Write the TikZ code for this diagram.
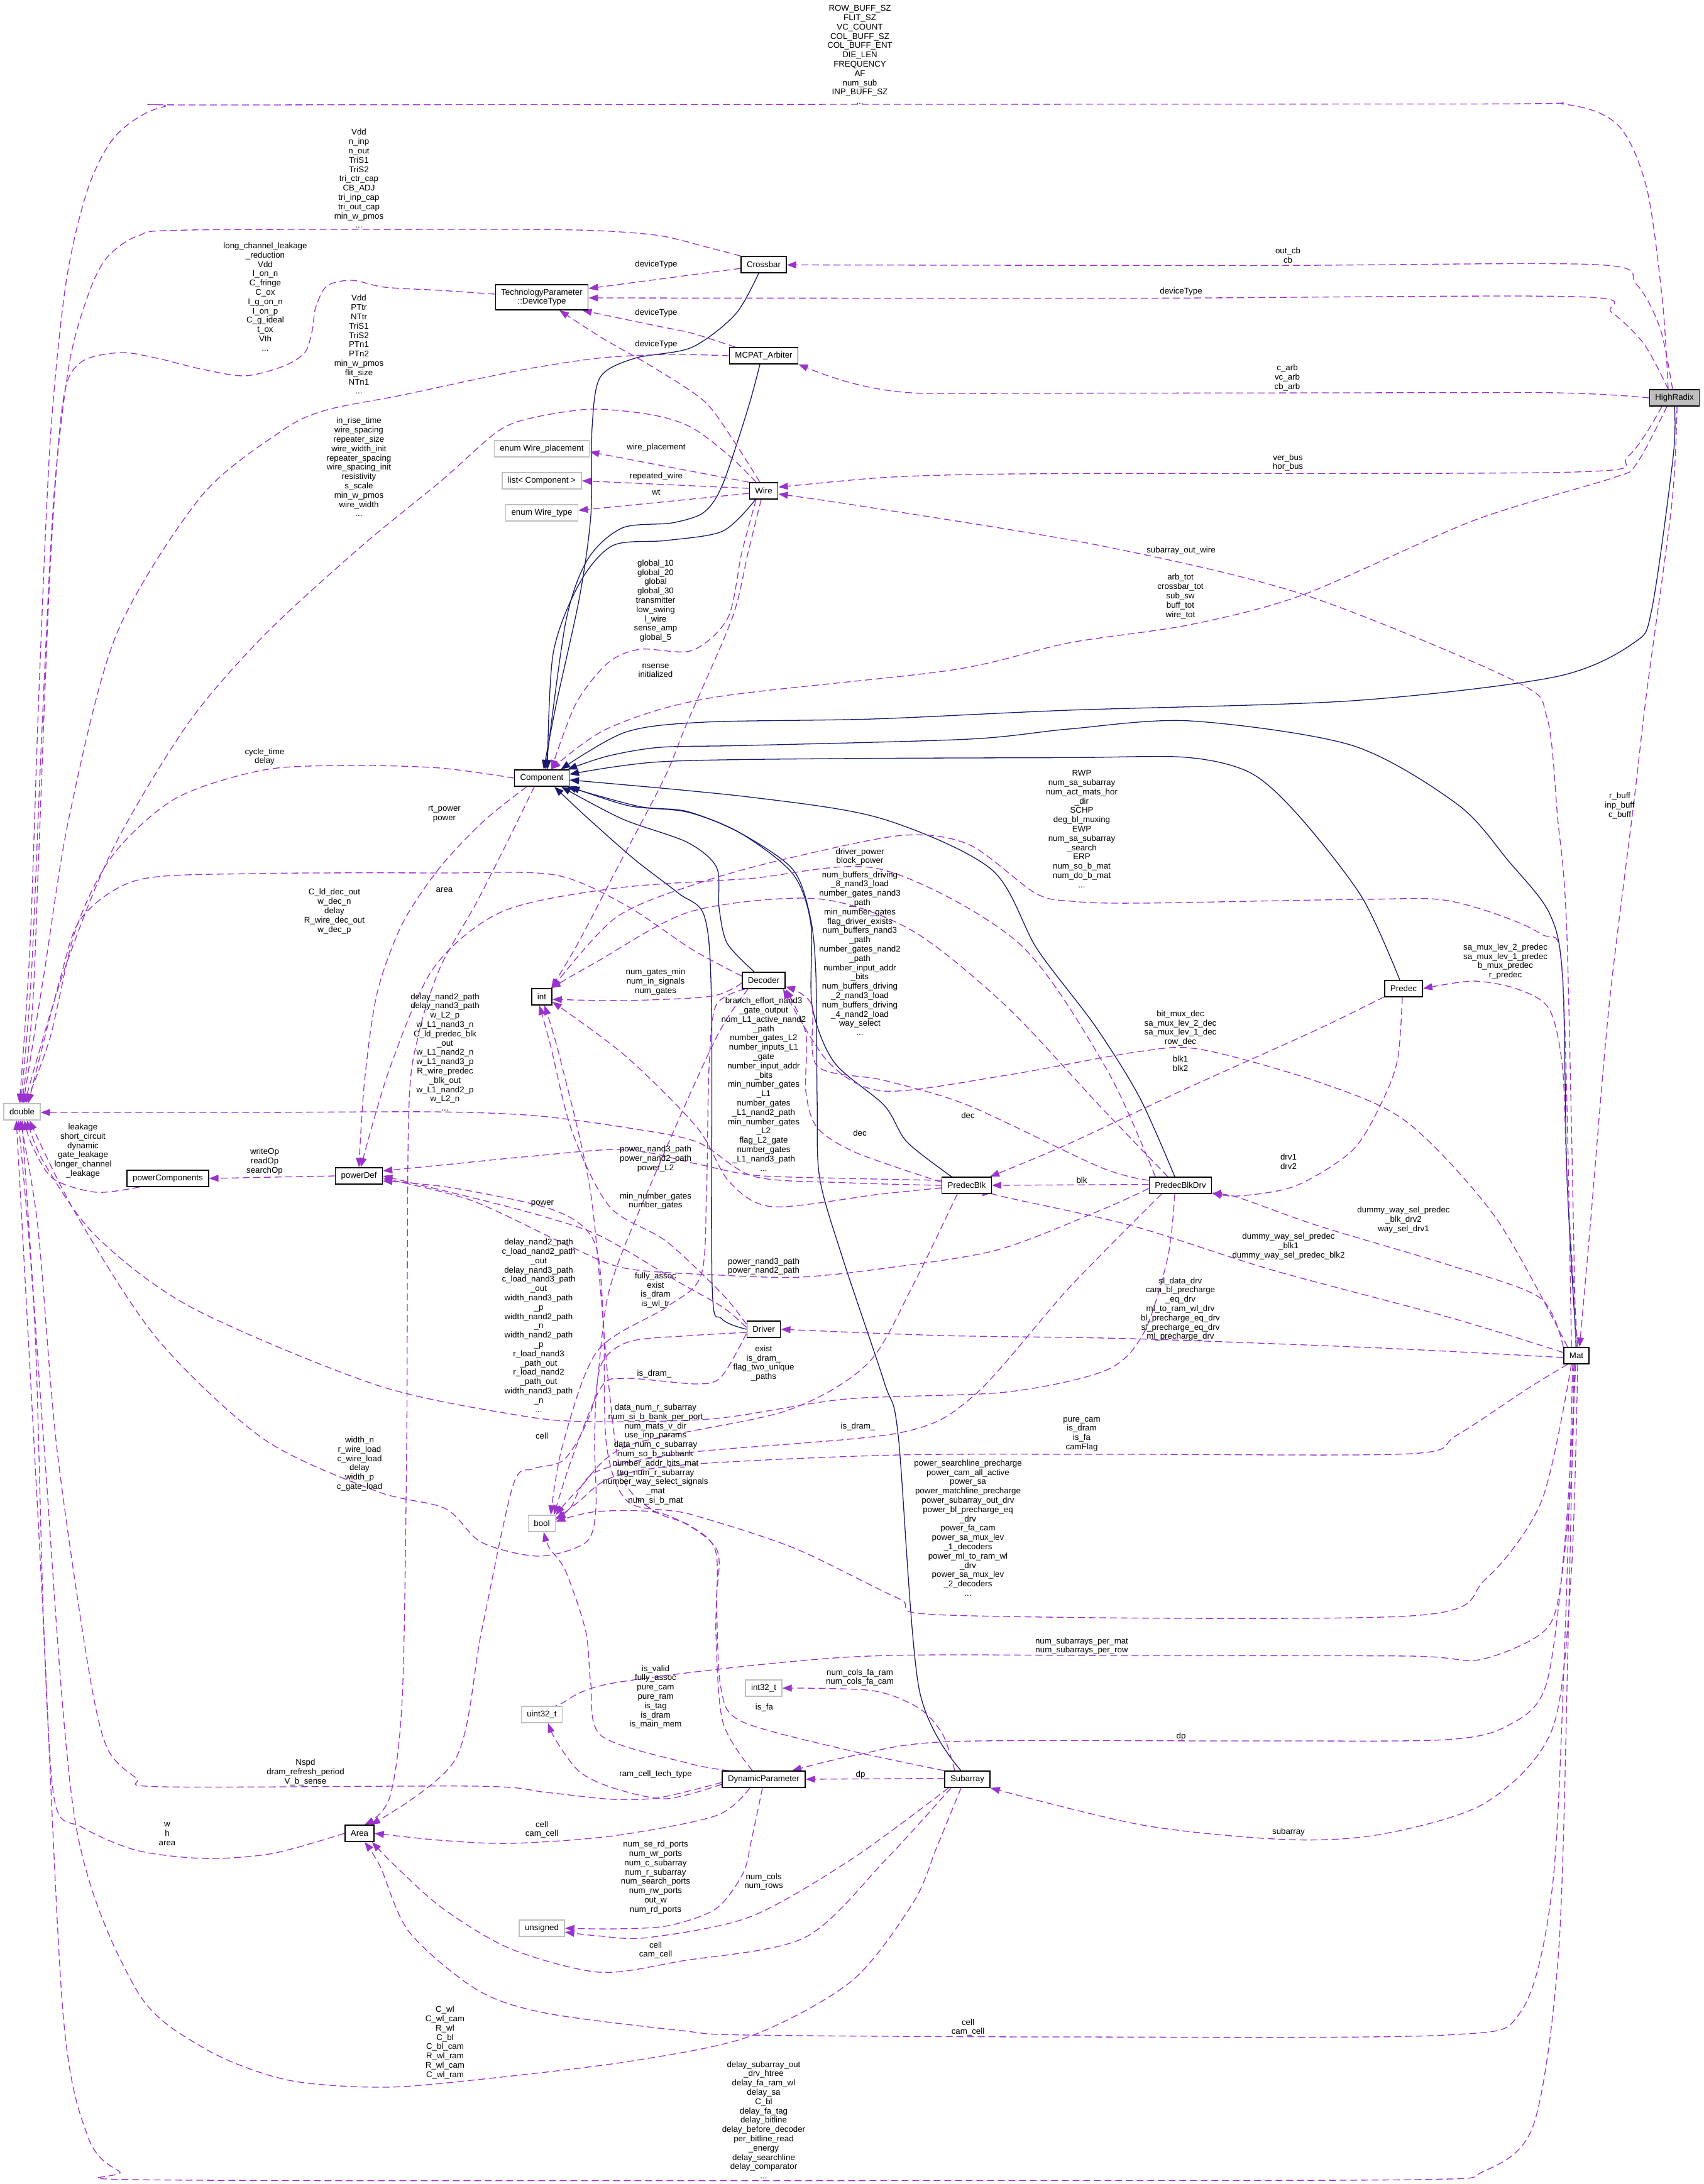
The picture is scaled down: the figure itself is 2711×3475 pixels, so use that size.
\documentclass[tikz,border=0pt]{standalone}
\usepackage{fontspec}
\setmainfont{Liberation Sans}
\usetikzlibrary{arrows.meta}
\definecolor{usecol}{HTML}{9A32CD}
\definecolor{inhcol}{HTML}{191970}
\definecolor{extcol}{HTML}{BFBFBF}
\newcommand\labfont{\fontsize{13.3}{14.8}\selectfont}
\pgfdeclarelayer{edges}
\pgfsetlayers{edges,main}
\begin{document}
\begin{tikzpicture}[x=1pt,y=-1pt,font=\labfont,
  cls/.style={draw=black,line width=1.5pt,fill=white,minimum height=26pt,inner xsep=9pt,inner ysep=2pt},
  ext/.style={cls,draw=extcol},
  hl/.style={cls,fill=extcol},
  lbl/.style={align=center,inner sep=0pt},
  ue/.style={draw=usecol,line width=1.3pt,dash pattern=on 11pt off 6pt,-{Triangle[length=15pt,width=11pt]}},
  ih/.style={draw=inhcol,line width=1.3pt,-{Triangle[length=15pt,width=11pt]}}]
\useasboundingbox (0,0) rectangle (2711,3475);
% ---------------- nodes
\node[hl]  (HR)  at (2664,633) {HighRadix};
\node[cls] (CB)  at (1215,421) {Crossbar};
\node[cls,align=center,minimum height=40pt] (TP) at (862,473) {TechnologyParameter\\::DeviceType};
\node[cls] (MA)  at (1215,566) {MCPAT\_Arbiter};
\node[ext] (EWP) at (862,714) {enum Wire\_placement};
\node[ext] (LC)  at (862,765) {list< Component >};
\node[ext] (EWT) at (862,816) {enum Wire\_type};
\node[cls] (W)   at (1215,781) {Wire};
\node[cls] (C)   at (862,1238) {Component};
\node[cls] (D)   at (1215,1560) {Decoder};
\node[cls] (I)   at (862,1586) {int};
\node[cls] (PB)  at (1538,1886) {PredecBlk};
\node[cls] (PBD) at (1878,1886) {PredecBlkDrv};
\node[cls] (P)   at (2233,1573) {Predec};
\node[ext] (DBL) at (35,1769) {double};
\node[cls] (PC)  at (267,1875) {powerComponents};
\node[cls] (PD)  at (571,1871) {powerDef};
\node[cls] (DRV) at (1215,2115) {Driver};
\node[cls] (M)   at (2508,2157) {Mat};
\node[ext] (B)   at (862,2424) {bool};
\node[ext] (I32) at (1215,2686) {int32\_t};
\node[ext] (U32) at (862,2728) {uint32\_t};
\node[cls] (DP)  at (1215,2831) {DynamicParameter};
\node[cls] (S)   at (1539,2831) {Subarray};
\node[cls] (A)   at (572,2917) {Area};
\node[ext] (U)   at (862,3068) {unsigned};
% ---------------- labels
\node[lbl] (l1) at (1368,87) {ROW\_BUFF\_SZ\\FLIT\_SZ\\VC\_COUNT\\COL\_BUFF\_SZ\\COL\_BUFF\_ENT\\DIE\_LEN\\FREQUENCY\\AF\\num\_sub\\INP\_BUFF\_SZ\\...};
\node[lbl] (l2) at (2049,406) {out\_cb\\cb};
\node[lbl] (l3) at (1879,464) {deviceType};
\node[lbl] (l4) at (2048,601) {c\_arb\\vc\_arb\\cb\_arb};
\node[lbl] (l5) at (2049,736) {ver\_bus\\hor\_bus};
\node[lbl] (l6) at (1879,876) {subarray\_out\_wire};
\node[lbl] (l7) at (1878,949) {arb\_tot\\crossbar\_tot\\sub\_sw\\buff\_tot\\wire\_tot};
\node[lbl] (l8) at (2577,1282) {r\_buff\\inp\_buff\\c\_buff};
\node[lbl] (l9) at (571,284) {Vdd\\n\_inp\\n\_out\\TriS1\\TriS2\\tri\_ctr\_cap\\CB\_ADJ\\tri\_inp\_cap\\tri\_out\_cap\\min\_w\_pmos\\...};
\node[lbl] (l10) at (422,472) {long\_channel\_leakage\\\_reduction\\Vdd\\I\_on\_n\\C\_fringe\\C\_ox\\I\_g\_on\_n\\I\_on\_p\\C\_g\_ideal\\t\_ox\\Vth\\...};
\node[lbl] (l11) at (571,548) {Vdd\\PTtr\\NTtr\\TriS1\\TriS2\\PTn1\\PTn2\\min\_w\_pmos\\flit\_size\\NTn1\\...};
\node[lbl] (l12) at (571,743) {in\_rise\_time\\wire\_spacing\\repeater\_size\\wire\_width\_init\\repeater\_spacing\\wire\_spacing\_init\\resistivity\\s\_scale\\min\_w\_pmos\\wire\_width\\...};
\node[lbl] (l13) at (1044,421) {deviceType};
\node[lbl] (l14) at (1044,498) {deviceType};
\node[lbl] (l15) at (1044,548) {deviceType};
\node[lbl] (l16) at (1044,712) {wire\_placement};
\node[lbl] (l17) at (1044,758) {repeated\_wire};
\node[lbl] (l18) at (1044,783) {wt};
\node[lbl] (l19) at (1043,956) {global\_10\\global\_20\\global\\global\_30\\transmitter\\low\_swing\\l\_wire\\sense\_amp\\global\_5};
\node[lbl] (l20) at (1043,1067) {nsense\\initialized};
\node[lbl] (l21) at (421,1204) {cycle\_time\\delay};
\node[lbl] (l22) at (1721,1319) {RWP\\num\_sa\_subarray\\num\_act\_mats\_hor\\\_dir\\SCHP\\deg\_bl\_muxing\\EWP\\num\_sa\_subarray\\\_search\\ERP\\num\_so\_b\_mat\\num\_do\_b\_mat\\...};
\node[lbl] (l23) at (707,1295) {rt\_power\\power};
\node[lbl] (l24) at (707,1416) {area};
\node[lbl] (l25) at (532,1450) {C\_ld\_dec\_out\\w\_dec\_n\\delay\\R\_wire\_dec\_out\\w\_dec\_p};
\node[lbl] (l26) at (1368,1363) {driver\_power\\block\_power};
\node[lbl] (l27) at (1368,1517) {num\_buffers\_driving\\\_8\_nand3\_load\\number\_gates\_nand3\\\_path\\min\_number\_gates\\flag\_driver\_exists\\num\_buffers\_nand3\\\_path\\number\_gates\_nand2\\\_path\\number\_input\_addr\\\_bits\\num\_buffers\_driving\\\_2\_nand3\_load\\num\_buffers\_driving\\\_4\_nand2\_load\\way\_select\\...};
\node[lbl] (l28) at (1043,1562) {num\_gates\_min\\num\_in\_signals\\num\_gates};
\node[lbl] (l29) at (1215,1725) {branch\_effort\_nand3\\\_gate\_output\\num\_L1\_active\_nand2\\\_path\\number\_gates\_L2\\number\_inputs\_L1\\\_gate\\number\_input\_addr\\\_bits\\min\_number\_gates\\\_L1\\number\_gates\\\_L1\_nand2\_path\\min\_number\_gates\\\_L2\\flag\_L2\_gate\\number\_gates\\\_L1\_nand3\_path\\...};
\node[lbl] (l30) at (708,1674) {delay\_nand2\_path\\delay\_nand3\_path\\w\_L2\_p\\w\_L1\_nand3\_n\\C\_ld\_predec\_blk\\\_out\\w\_L1\_nand2\_n\\w\_L1\_nand3\_p\\R\_wire\_predec\\\_blk\_out\\w\_L1\_nand2\_p\\w\_L2\_n\\...};
\node[lbl] (l31) at (132,1831) {leakage\\short\_circuit\\dynamic\\gate\_leakage\\longer\_channel\\\_leakage};
\node[lbl] (l32) at (421,1848) {writeOp\\readOp\\searchOp};
\node[lbl] (l33) at (1043,1844) {power\_nand3\_path\\power\_nand2\_path\\power\_L2};
\node[lbl] (l34) at (863,1915) {power};
\node[lbl] (l35) at (1043,1911) {min\_number\_gates\\number\_gates};
\node[lbl] (l36) at (857,2109) {delay\_nand2\_path\\c\_load\_nand2\_path\\\_out\\delay\_nand3\_path\\c\_load\_nand3\_path\\\_out\\width\_nand3\_path\\\_p\\width\_nand2\_path\\\_n\\width\_nand2\_path\\\_p\\r\_load\_nand3\\\_path\_out\\r\_load\_nand2\\\_path\_out\\width\_nand3\_path\\\_n\\...};
\node[lbl] (l37) at (1043,2053) {fully\_assoc\\exist\\is\_dram\\is\_wl\_tr};
\node[lbl] (l38) at (1215,2015) {power\_nand3\_path\\power\_nand2\_path};
\node[lbl] (l39) at (1368,1803) {dec};
\node[lbl] (l40) at (1540,1775) {dec};
\node[lbl] (l41) at (1721,1878) {blk};
\node[lbl] (l42) at (1878,1636) {bit\_mux\_dec\\sa\_mux\_lev\_2\_dec\\sa\_mux\_lev\_1\_dec\\row\_dec};
\node[lbl] (l43) at (1878,1692) {blk1\\blk2};
\node[lbl] (l44) at (2395,1530) {sa\_mux\_lev\_2\_predec\\sa\_mux\_lev\_1\_predec\\b\_mux\_predec\\r\_predec};
\node[lbl] (l45) at (2050,1848) {drv1\\drv2};
\node[lbl] (l46) at (2233,1941) {dummy\_way\_sel\_predec\\\_blk\_drv2\\way\_sel\_drv1};
\node[lbl] (l47) at (2050,1983) {dummy\_way\_sel\_predec\\\_blk1\\dummy\_way\_sel\_predec\_blk2};
\node[lbl] (l48) at (1878,2083) {sl\_data\_drv\\cam\_bl\_precharge\\\_eq\_drv\\ml\_to\_ram\_wl\_drv\\bl\_precharge\_eq\_drv\\sl\_precharge\_eq\_drv\\ml\_precharge\_drv};
\node[lbl] (l49) at (1215,2169) {exist\\is\_dram\_\\flag\_two\_unique\\\_paths};
\node[lbl] (l50) at (1041,2186) {is\_dram\_};
\node[lbl] (l51) at (572,2329) {width\_n\\r\_wire\_load\\c\_wire\_load\\delay\\width\_p\\c\_gate\_load};
\node[lbl] (l52) at (862,2285) {cell};
\node[lbl] (l53) at (1365,2270) {is\_dram\_};
\node[lbl] (l54) at (1043,2320) {data\_num\_r\_subarray\\num\_si\_b\_bank\_per\_port\\num\_mats\_v\_dir\\use\_inp\_params\\data\_num\_c\_subarray\\num\_so\_b\_subbank\\number\_addr\_bits\_mat\\tag\_num\_r\_subarray\\number\_way\_select\_signals\\\_mat\\num\_si\_b\_mat\\...};
\node[lbl] (l55) at (1721,2282) {pure\_cam\\is\_dram\\is\_fa\\camFlag};
\node[lbl] (l56) at (1540,2431) {power\_searchline\_precharge\\power\_cam\_all\_active\\power\_sa\\power\_matchline\_precharge\\power\_subarray\_out\_drv\\power\_bl\_precharge\_eq\\\_drv\\power\_fa\_cam\\power\_sa\_mux\_lev\\\_1\_decoders\\power\_ml\_to\_ram\_wl\\\_drv\\power\_sa\_mux\_lev\\\_2\_decoders\\...};
\node[lbl] (l57) at (1721,2619) {num\_subarrays\_per\_mat\\num\_subarrays\_per\_row};
\node[lbl] (l58) at (1043,2700) {is\_valid\\fully\_assoc\\pure\_cam\\pure\_ram\\is\_tag\\is\_dram\\is\_main\_mem};
\node[lbl] (l59) at (1368,2669) {num\_cols\_fa\_ram\\num\_cols\_fa\_cam};
\node[lbl] (l60) at (1216,2717) {is\_fa};
\node[lbl] (l61) at (1879,2763) {dp};
\node[lbl] (l62) at (1043,2823) {ram\_cell\_tech\_type};
\node[lbl] (l63) at (1369,2824) {dp};
\node[lbl] (l64) at (486,2820) {Nspd\\dram\_refresh\_period\\V\_b\_sense};
\node[lbl] (l65) at (266,2918) {w\\h\\area};
\node[lbl] (l66) at (862,2911) {cell\\cam\_cell};
\node[lbl] (l67) at (2050,2915) {subarray};
\node[lbl] (l68) at (1043,2987) {num\_se\_rd\_ports\\num\_wr\_ports\\num\_c\_subarray\\num\_r\_subarray\\num\_search\_ports\\num\_rw\_ports\\out\_w\\num\_rd\_ports};
\node[lbl] (l69) at (1215,2994) {num\_cols\\num\_rows};
\node[lbl] (l70) at (1043,3103) {cell\\cam\_cell};
\node[lbl] (l71) at (708,3250) {C\_wl\\C\_wl\_cam\\R\_wl\\C\_bl\\C\_bl\_cam\\R\_wl\_ram\\R\_wl\_cam\\C\_wl\_ram};
\node[lbl] (l72) at (1540,3226) {cell\\cam\_cell};
\node[lbl] (l73) at (1215,3373) {delay\_subarray\_out\\\_drv\_htree\\delay\_fa\_ram\_wl\\delay\_sa\\C\_bl\\delay\_fa\_tag\\delay\_bitline\\delay\_before\_decoder\\per\_bitline\_read\\\_energy\\delay\_searchline\\delay\_comparator\\...};
% ---------------- edges
\begin{pgfonlayer}{edges}
\fill[white] (0,0) rectangle (2711,3475);
% inheritance
\draw[ih] plot[smooth] coordinates {([xshift=-8pt]CB.south) (1170,500) (1100,553) (1010,570) (955,600) (942,680) (940,820) (922,950) (885,1120) ([xshift=3pt]C.north)};
\draw[ih] plot[smooth] coordinates {([xshift=-6pt]MA.south) (1190,650) (1150,770) (1120,815) (1069,832) (990,840) (935,890) (900,990) ([xshift=6pt]C.north)};
\draw[ih] plot[smooth] coordinates {([xshift=-13pt]W.south) (1150,845) (1060,860) (975,868) (922,928) (880,1040) ([xshift=9pt]C.north)};
\draw[ih] plot[smooth] coordinates {(HR.south) (2662,726) (2628,969) (2599,1023) (2474,1077) (2151,1115) (1700,1130) (1388,1144) (1121,1149) (995,1165) ([xshift=-14pt]C.north east)};
\draw[ih] plot[smooth] coordinates {(M.north) (2493,1874) (2486,1555) (2465,1453) (2400,1370) (2319,1280) (2151,1186) (1893,1147) (1700,1160) (1542,1176) (1191,1186) (1051,1189) (967,1203) ([xshift=-3pt]C.north east)};
\draw[ih] plot[smooth] coordinates {([xshift=-6pt]P.north) (2167,1428) (2068,1300) (1990,1230) (1887,1205) (1700,1205.5) (1331,1207) (1051,1212) ([yshift=6pt]C.east)};
\draw[ih] plot[smooth] coordinates {([xshift=-9pt]PBD.north) (1813,1746) (1742,1632) (1650,1510) (1577,1383) (1401,1302) (1191,1268) ([yshift=-3pt]C.east)};
\draw[ih] plot[smooth] coordinates {([xshift=-24pt]PB.north) (1443,1817) (1407,1759) (1327,1690) (1292,1600) (1290,1470) (1261,1390) (1177,1325) (1093,1292) (1000,1282) ([xshift=45pt]C.south)};
\draw[ih] plot[smooth] coordinates {([xshift=-15pt]D.north) (1157,1501) (1144,1444) (1140,1380) (1093,1340) (990,1303) ([xshift=31pt]C.south)};
\draw[ih] plot[smooth] coordinates {(DRV.west) (1148,2098) (1133,2046) (1132,1600) (1121,1459) (1079,1421) (1009,1367) (931,1298) ([xshift=20pt]C.south)};
\draw[ih] plot[smooth] coordinates {([xshift=-10pt]S.north) (1462,2686) (1429,2284) (1407,2200) (1340,2000) (1304,1874) (1300,1748) (1298,1550) (1289,1459) (1261,1383) (1177,1325) (1093,1291) (1016,1283) ([xshift=40pt]C.south)};
% usage: to double
\draw[ue] plot[smooth] coordinates {([xshift=-10pt]HR.north) (2645,480) (2620,300) (2575,200) (2490,166) (2300,165.5) (400,167) (260,170) (185,215) (140,300) (105,450) (80,700) (62,1100) (48,1500) ([xshift=-4pt]DBL.north)};
\draw[ue] plot[smooth] coordinates {(CB.north west) (1120,392) (1050,375) (950,367) (800,365) (300,366) (220,375) (170,410) (140,470) (110,580) (85,800) (65,1200) (50,1550) ([xshift=-2pt]DBL.north)};
\draw[ue] plot[smooth] coordinates {([yshift=5pt]TP.west) (700,462) (612,457) (560,446) (520,455) (502,490) (497,525) (485,561) (450,583) (389,598) (319,587) (250,570) (191,561) (128,577) (100,640) (80,900) (62,1350) (52,1600) (DBL.north)};
\draw[ue] plot[smooth] coordinates {(MA.west) (1069,564) (960,569) (850,585) (750,605) (638,629) (517,653) (446,687) (319,791) (185,1010) (110,1300) (70,1550) ([xshift=2pt]DBL.north)};
\draw[ue] plot[smooth] coordinates {([xshift=-12pt]W.north) (1160,725) (1100,680) (1037,660) (941,651) (846,665) (791,687) (702,765) (574,870) (421,1010) (300,1150) (180,1350) (100,1550) ([xshift=4pt]DBL.north)};
\draw[ue] plot[smooth] coordinates {(C.west) (700,1222) (560,1218) (420,1225) (280,1270) (180,1360) (120,1480) (80,1650) ([xshift=6pt]DBL.north)};
\draw[ue] plot[smooth] coordinates {([yshift=7pt]D.west) (1100,1510) (995,1440) (882,1392) (700,1389) (400,1390) (220,1400) (130,1460) (95,1560) ([xshift=10pt]DBL.north)};
\draw[ue] plot[smooth] coordinates {(PB.west) (1350,1882) (1200,1872) (1109,1817) (995,1794) (850,1775) (689,1769) (400,1770) ([yshift=-1pt]DBL.east)};
\draw[ue] plot[smooth] coordinates {([xshift=-45pt]PC.south) (153,1897) (84,1875) (50,1820) ([xshift=4pt]DBL.south)};
\draw[ue] plot[smooth] coordinates {([xshift=-9pt]PBD.south) (1858,2000) (1820,2120) (1760,2180) (1600,2215) (1346,2226) (1139,2257) (948,2262) (832,2253) (600,2204) (306,2081) (153,1967) (70,1850) ([xshift=8pt]DBL.south)};
\draw[ue] plot[smooth] coordinates {([yshift=-5pt]DRV.west) (1100,2125) (1000,2135) (955,2175) (946,2284) (948,2400) (932,2454) (857,2476) (766,2454) (708,2400) (600,2373) (420,2290) (250,2130) (120,1930) ([xshift=12pt]DBL.south)};
\draw[ue] plot[smooth] coordinates {(A.west) (434,2949) (325,2957) (217,2944) (130,2907) (87,2866) (70,2600) (55,2100) ([xshift=-6pt]DBL.south)};
\draw[ue] plot[smooth] coordinates {([yshift=-5pt]DP.west) (1050,2860) (976,2863) (870,2852) (759,2842) (260,2843) (217,2829) (170,2780) (140,2650) (90,2300) (60,1950) ([xshift=-3pt]DBL.south)};
\draw[ue] plot[smooth] coordinates {([xshift=-10pt]S.south) (1490,2940) (1453,3027) (1355,3152) (1193,3240) (1000,3280) (759,3309) (607,3321) (455,3309) (325,3259) (217,3166) (120,2900) (70,2300) (DBL.south)};
\draw[ue] plot[smooth] coordinates {([xshift=-4pt]M.south) (2495,2600) (2480,3100) (2440,3380) (2360,3455) (2250,3468) (1500,3469.5) (250,3468.5) (190,3455) (140,3400) (100,3200) (65,2500) ([xshift=-9pt]DBL.south)};
% powerDef / powerComponents
\draw[ue] (PD.west) -- (PC.east);
\draw[ue] plot[smooth] coordinates {([xshift=-24pt]C.south) (770,1306) (700,1380) (640,1470) (600,1580) (580,1720) (PD.north)};
\draw[ue] plot[smooth] coordinates {([xshift=-40pt]PBD.north) (1760,1700) (1620,1500) (1401,1383) (1191,1398) (981,1413) (800,1450) (690,1540) (620,1700) ([xshift=3pt]PD.north)};
\draw[ue] plot[smooth] coordinates {([yshift=8pt]PB.west) (1350,1875) (1200,1870) (1109,1852) (995,1829) (842,1840) (720,1852) ([yshift=8pt]PD.east)};
\draw[ue] plot[smooth] coordinates {([yshift=-5pt]PBD.west) (1750,1926) (1586,1989) (1407,2018) (1273,2032) (1148,2029) (995,2018) (900,1980) (750,1910) ([yshift=-4pt]PD.east)};
\draw[ue] plot[smooth] coordinates {([yshift=3pt]DRV.west) (1150,2080) (1080,2040) (956,1967) (863,1935) (765,1909) (PD.east)};
\draw[ue] plot[smooth] coordinates {([xshift=-8pt]M.south) (2453,2387) (2363,2513) (2245,2571) (1512,2570) (1429,2543) (1263,2463) (1097,2409) (1000,2390) (965,2300) (960,2100) (945,1975) (880,1925) (720,1890) ([yshift=-8pt]PD.east)};
% Area
\draw[ue] plot[smooth] coordinates {([xshift=-12pt]C.south) (805,1344) (756,1440) (700,1540) (665,1650) (650,1780) (647,2300) (640,2700) (620,2860) ([xshift=8pt]A.north)};
\draw[ue] plot[smooth] coordinates {([xshift=-25pt]D.south) (1140,1650) (1050,1850) (970,2050) (945,2230) (900,2320) (849,2337) (816,2364) (766,2596) (724,2800) ([xshift=-6pt]A.north east)};
\draw[ue] plot[smooth] coordinates {([xshift=-22pt]DP.south) (1139,2889) (976,2921) (813,2933) (700,2928) (A.east)};
\draw[ue] plot[smooth] coordinates {([xshift=-26pt]S.south) (1410,2958) (1280,3083) (1085,3120) (954,3138) (813,3101) (705,3037) (630,2970) ([xshift=-4pt]A.south east)};
\draw[ue] plot[smooth] coordinates {([xshift=-6pt]M.south) (2490,2600) (2470,3000) (2420,3200) (2300,3238) (1700,3241) (1193,3238) (1085,3231) (868,3203) (759,3166) (651,3074) (605,2970) ([xshift=8pt]A.south)};
% unsigned, uint32, int32
\draw[ue] plot[smooth] coordinates {([xshift=-2pt]DP.south) (1195,2930) (1182,2981) (1139,3037) (1063,3064) (980,3069) (U.east)};
\draw[ue] plot[smooth] coordinates {([xshift=-30pt]S.south) (1355,2958) (1193,3050) (1030,3083) (950,3080) ([yshift=-6pt]U.east)};
\draw[ue] plot[smooth] coordinates {([yshift=-8pt]DP.west) (1060,2862) (976,2845) (922,2819) (885,2770) ([xshift=10pt]U32.south)};
\draw[ue] plot[smooth] coordinates {([xshift=-3pt]M.south) (2500,2350) (2480,2540) (2451,2600) (2353,2641) (2244,2635) (1800,2634.5) (1360,2636) (981,2677) (890,2712) ([xshift=20pt]U32.north)};
\draw[ue] plot[smooth] coordinates {([xshift=-20pt]S.north) (1500,2760) (1462,2718) (1388,2690) (I32.east)};
% DynamicParameter, Subarray
\draw[ue] ([yshift=1.5pt]S.west) -- (DP.east);
\draw[ue] plot[smooth] coordinates {([xshift=-1pt]M.south) (2490,2450) (2460,2680) (2400,2745) (2300,2768) (2000,2770) (1513,2771) (1360,2793) ([xshift=45pt]DP.north)};
\draw[ue] plot[smooth] coordinates {([xshift=2pt]M.south) (2500,2500) (2470,2750) (2364,2868) (2200,2918) (2048,2927) (1818,2904) (S.south east)};
% bool
\draw[ue] plot[smooth] coordinates {([xshift=-55pt]DP.north) (1097,2806) (957,2762) (940,2680) (932,2596) (900,2500) (874,2463) ([xshift=3pt]B.south)};
\draw[ue] plot[smooth] coordinates {(S.north west) (1346,2784) (1180,2739) (1147,2686) (1140,2550) (1139,2463) (1056,2409) (950,2405) ([yshift=3pt]B.east)};
\draw[ue] plot[smooth] coordinates {([xshift=-14pt]M.south) (2431,2209) (2317,2284) (2245,2313) (1800,2314) (1429,2315) (1097,2330) (973,2351) (920,2390) ([yshift=6pt]B.east)};
\draw[ue] plot[smooth] coordinates {([xshift=-30pt]D.south) (1139,1600) (1128,1700) (1124,1900) (1115,2030) (1060,2080) (950,2150) (895,2300) ([xshift=-8pt]B.north east)};
\draw[ue] plot[smooth] coordinates {([yshift=-7pt]DRV.west) (1148,2190) (1109,2202) (995,2193) (956,2208) (910,2320) ([xshift=-3pt]B.north east)};
\draw[ue] plot[smooth] coordinates {([xshift=-15pt]PB.south) (1452,2046) (1380,2170) (1250,2245) (1000,2300) (920,2370) (B.north east)};
\draw[ue] plot[smooth] coordinates {([xshift=-30pt]PBD.south) (1700,2050) (1550,2220) (1430,2280) (1097,2311) (948,2342) (907,2400) ([yshift=9pt]B.east)};
% int
\draw[ue] plot[smooth] coordinates {([xshift=-4pt]W.south) (1190,880) (1165,983) (1094,1148) (1056,1240) (981,1383) (920,1500) ([xshift=15pt]I.north)};
\draw[ue] plot[smooth] coordinates {([yshift=-4pt]D.west) (1132,1585) (995,1592) ([yshift=-4pt]I.east)};
\draw[ue] plot[smooth] coordinates {([xshift=-18pt]DP.north) (1150,2740) (1139,2600) (1139,2470) (1097,2427) (1040,2404) (990,2350) (968,2200) (940,1900) (890,1680) ([xshift=4pt]I.south)};
\draw[ue] plot[smooth] coordinates {([yshift=8pt]DRV.west) (1150,2060) (1060,1975) (970,1920) (910,1800) (875,1660) ([xshift=-4pt]I.south)};
\draw[ue] plot[smooth] coordinates {([yshift=-4pt]PB.west) (1400,1900) (1229,1920) (1160,1880) (1109,1794) (995,1680) ([yshift=-8pt]I.east)};
\draw[ue] plot[smooth] coordinates {([xshift=-20pt]PBD.north) (1750,1760) (1600,1600) (1450,1480) (1300,1430) (1100,1450) (950,1530) ([xshift=-2pt]I.north east)};
\draw[ue] plot[smooth] coordinates {([xshift=-8pt]M.north) (2486,1555) (2450,1485) (2309,1434) (2167,1431) (1813,1437) (1706,1434) (1647,1421) (1542,1344) (1437,1329) (1261,1364) (1121,1402) (981,1459) (I.north east)};
% Component by use
\draw[ue] plot[smooth] coordinates {([xshift=-12pt]W.south) (1180,880) (1158,983) (1101,1035) (1018,1033) (967,1055) (916,1120) ([xshift=15pt]C.north)};
\draw[ue] plot[smooth] coordinates {([xshift=-12pt]HR.south) (2603,739) (2564,761) (2345,828) (2074,946) (1893,994) (1700,1023) (1515,1066) (1133,1110) (967,1159) ([xshift=15pt]C.north)};
% HighRadix others
\draw[ue] plot[smooth] coordinates {([xshift=-3pt]HR.north) (2641,522) (2603,452) (2538,421) (2000,422.5) ([yshift=-0.5pt]CB.east)};
\draw[ue] plot[smooth] coordinates {([xshift=-10pt]HR.north) (2616,548) (2564,497) (2506,472) (1800,474.5) ([yshift=-1pt]TP.east)};
\draw[ue] (HR.west) .. controls (2560,627) and (2500,625) .. (2440,624.5) -- (1480,626) .. controls (1390,626) and (1320,600) .. (MA.south east);
\draw[ue] plot[smooth] coordinates {([xshift=-20pt]HR.south) (2590,726) (2506,751) (1700,753.5) (1500,756) (1388,761) ([yshift=6pt]W.east)};
\draw[ue] plot[smooth] coordinates {([xshift=4pt]HR.south) (2660,800) (2620,1100) (2599,1280) (2560,1600) (2530,1950) ([xshift=5pt]M.north)};
% TechnologyParameter
\draw[ue] ([yshift=-6pt]CB.west) -- ([yshift=14pt]TP.east);
\draw[ue] plot[smooth] coordinates {([xshift=-45pt]MA.north) (1100,530) (1037,517) ([xshift=-10pt]TP.south east)};
\draw[ue] plot[smooth] coordinates {([xshift=-6pt]W.north) (1165,698) (1120,638) (1037,583) (960,539) ([xshift=28pt]TP.south)};
% Wire members
\draw[ue] (W.north west) -- ([yshift=-5pt]EWP.east);
\draw[ue] ([yshift=4pt]W.west) -- (LC.east);
\draw[ue] ([yshift=-4pt]W.west) -- ([yshift=4pt]EWT.east);
% Mat others
\draw[ue] plot[smooth] coordinates {([xshift=-1pt]M.north) (2493,1491) (2478,1300) (2461,1141) (2409,1083) (2074,946) (1750,868) (1388,808) ([yshift=-5pt]W.east)};
\draw[ue] plot[smooth] coordinates {([yshift=-3pt]M.west) (2200,2145) (1800,2130) (1500,2125) (DRV.east)};
\draw[ue] plot[smooth] coordinates {(M.north west) (2450,2065) (2309,2014) (2096,1950) (1969,1905) (PBD.south east)};
\draw[ue] plot[smooth] coordinates {([yshift=5pt]M.west) (2309,2097) (2025,2021) (1800,1950) (1600,1905) ([yshift=-12pt]PB.east)};
\draw[ue] plot[smooth] coordinates {([xshift=2pt]M.north) (2493,1874) (2486,1700) (2465,1606) (2415,1574) (2344,1561) (P.east)};
\draw[ue] plot[smooth] coordinates {([xshift=-14pt]M.north) (2380,1938) (2238,1785) (2096,1721) (1912,1670) (1813,1673) (1600,1711) (1407,1736) (1318,1690) ([xshift=-4pt]D.south east)};
% Predec family
\draw[ue] plot[smooth] coordinates {([yshift=5pt]PB.west) (1362,1834) (1300,1794) (1282,1736) (1282,1644) (D.south east)};
\draw[ue] plot[smooth] coordinates {([yshift=8pt]PBD.west) (1750,1857) (1541,1759) (1407,1719) (1300,1696) (1291,1598) ([yshift=4pt]D.south east)};
\draw[ue] ([yshift=1.5pt]PBD.west) -- (PB.east);
\draw[ue] plot[smooth] coordinates {([yshift=-13pt]P.west) (2096,1638) (1883,1734) (1700,1820) ([xshift=-3pt]PB.north east)};
\draw[ue] plot[smooth] coordinates {([xshift=-2pt]P.south) (2224,1683) (2202,1746) (2153,1829) (2061,1887) (1969,1903) ([yshift=2pt]PBD.south east)};
\end{pgfonlayer}
\end{tikzpicture}
\end{document}
